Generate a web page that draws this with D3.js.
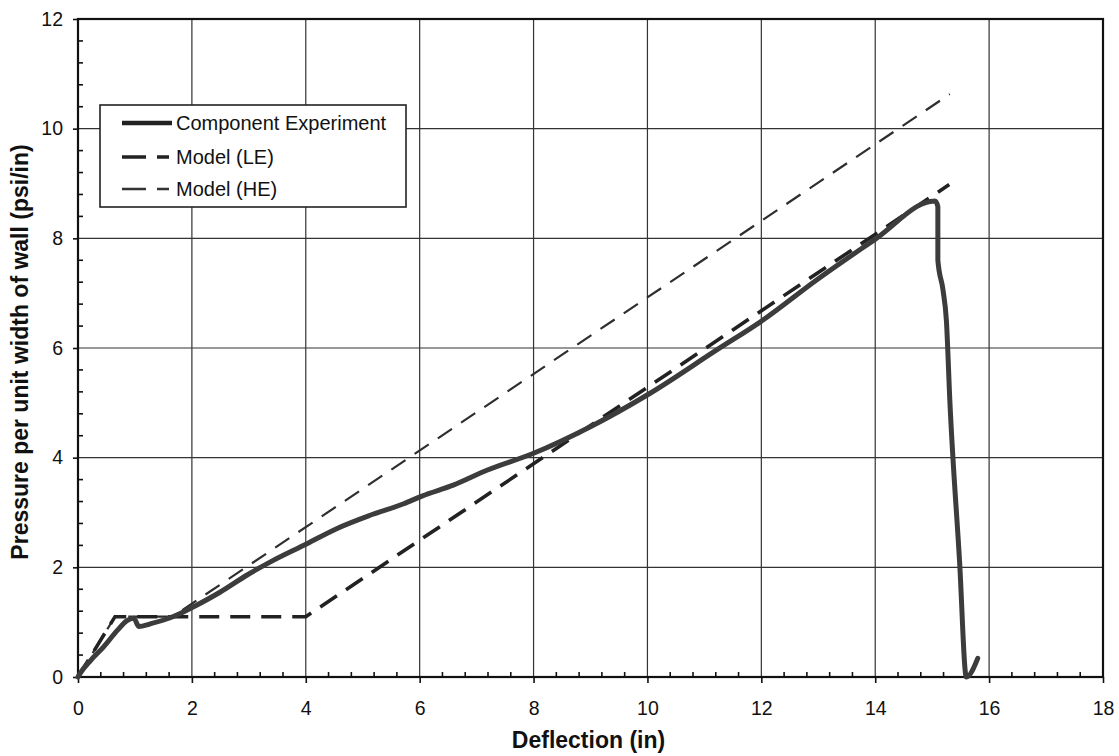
<!DOCTYPE html>
<html><head><meta charset="utf-8">
<script src="https://cdn.jsdelivr.net/npm/d3@7"></script>
<style>
html,body{margin:0;padding:0;background:#fff;}
svg{display:block;font-family:"Liberation Sans",Arial,sans-serif;}
</style></head>
<body>
<svg id="c" width="1119" height="756"></svg>
<script>
// ---- data ----
const expX = [0, 0.04, 0.22, 0.45, 0.69, 0.86, 0.98, 1.07, 1.27, 1.62, 1.86, 2.03, 2.5, 2.97, 3.38, 4.02, 4.55, 5.13, 5.72, 6.04, 6.59, 7.18, 8.0, 8.99, 10.04, 11.21, 12.03, 12.97, 14.02, 14.96, 15.05, 15.1, 15.1, 15.19, 15.25, 15.31, 15.48, 15.6, 15.8];
const expY = [0, 0.07, 0.3, 0.55, 0.85, 1.03, 1.07, 0.92, 0.97, 1.08, 1.19, 1.28, 1.55, 1.86, 2.1, 2.43, 2.71, 2.95, 3.16, 3.3, 3.5, 3.77, 4.08, 4.56, 5.17, 5.96, 6.51, 7.24, 8.0, 8.67, 8.68, 8.58, 7.6, 7.06, 6.5, 5.05, 2.13, 0, 0.34];
const leX = [0, 0.65, 4.0, 15.3];
const leY = [0, 1.1, 1.1, 8.98];
const heX = [0, 0.65, 1.66, 15.31];
const heY = [0, 1.1, 1.1, 10.63];
const xTicks = [0, 2, 4, 6, 8, 10, 12, 14, 16, 18];
const yTicks = [0, 2, 4, 6, 8, 10, 12];
const seriesNames = ["Component Experiment", "Model (LE)", "Model (HE)"];
const xTitle = "Deflection (in)";
const yTitle = "Pressure per unit width of wall (psi/in)";

// ---- layout ----
const svg = d3.select("#c");
const L = 78, R = 1103, T = 19, B = 677;
const x = d3.scaleLinear().domain([0, 18]).range([L, R]);
const y = d3.scaleLinear().domain([0, 12]).range([B, T]);
const FONT = "'Liberation Sans',Arial,sans-serif";

// grid
const g = svg.append("g");
g.selectAll("line.vx").data(xTicks.slice(1, -1)).join("line")
  .attr("x1", d => x(d)).attr("x2", d => x(d)).attr("y1", T).attr("y2", B)
  .attr("stroke", "#333").attr("stroke-width", 1.2);
g.selectAll("line.hy").data(yTicks.slice(1, -1)).join("line")
  .attr("y1", d => y(d)).attr("y2", d => y(d)).attr("x1", L).attr("x2", R)
  .attr("stroke", "#333").attr("stroke-width", 1.2);

// frame
svg.append("rect").attr("x", L).attr("y", T).attr("width", R - L).attr("height", B - T)
  .attr("fill", "none").attr("stroke", "#111").attr("stroke-width", 2.2);

// minor ticks (inward)
const minorX = d3.range(1, 45).filter(i => i % 5 !== 0).map(i => i * 0.4);
const minorY = d3.range(1, 30).filter(i => i % 5 !== 0).map(i => i * 0.4);
const mt = svg.append("g");
mt.selectAll("line.mx").data(minorX).join("line").attr("class", "mx")
  .attr("x1", d => x(d)).attr("x2", d => x(d)).attr("y1", B).attr("y2", B - 5)
  .attr("stroke", "#111").attr("stroke-width", 1.6);
mt.selectAll("line.my").data(minorY).join("line").attr("class", "my")
  .attr("y1", d => y(d)).attr("y2", d => y(d)).attr("x1", L).attr("x2", L + 5)
  .attr("stroke", "#111").attr("stroke-width", 1.6);

// major axes
const ax = svg.append("g").attr("transform", `translate(0,${B})`)
  .call(d3.axisBottom(x).tickValues(xTicks).tickSize(6).tickPadding(18).tickFormat(d3.format("d")));
ax.select(".domain").remove();
ax.selectAll("line").attr("stroke", "#111").attr("stroke-width", 1.6);
ax.selectAll("text").attr("font-size", 19.5).attr("fill", "#111").attr("font-family", FONT);
const ay = svg.append("g").attr("transform", `translate(${L},0)`)
  .call(d3.axisLeft(y).tickValues(yTicks).tickSize(5).tickPadding(10).tickFormat(d3.format("d")));
ay.select(".domain").remove();
ay.selectAll("line").attr("stroke", "#111").attr("stroke-width", 1.6);
ay.selectAll("text").attr("font-size", 19.5).attr("fill", "#111").attr("font-family", FONT);

// titles
svg.append("text").attr("x", (L + R) / 2 - 2).attr("y", 748).attr("text-anchor", "middle")
  .attr("font-size", 23).attr("font-weight", "bold").attr("fill", "#111").text(xTitle);
svg.append("text").attr("transform", `translate(28,${(T + B) / 2 + 4}) rotate(-90)`)
  .attr("text-anchor", "middle").attr("font-size", 23).attr("font-weight", "bold")
  .attr("fill", "#111").text(yTitle);

// lines
const line = d3.line().x(d => x(d[0])).y(d => y(d[1]));
const heData = heX.map((v, i) => [v, heY[i]]);
const leData = leX.map((v, i) => [v, leY[i]]);
const expData = expX.map((v, i) => [v, expY[i]]);
svg.append("path").datum(heData).attr("d", line).attr("fill", "none")
  .attr("stroke", "#2e2e2e").attr("stroke-width", 2.2).attr("stroke-dasharray", "17,11");
svg.append("path").datum(leData).attr("d", line).attr("fill", "none")
  .attr("stroke", "#222").attr("stroke-width", 3.6).attr("stroke-dasharray", "20,11");
svg.append("path").datum(expData).attr("d", d3.line().x(d => x(d[0])).y(d => y(d[1])).curve(d3.curveMonotoneX))
  .attr("fill", "none")
  .attr("stroke", "#3c3c3c").attr("stroke-width", 5).attr("stroke-linejoin", "round").attr("stroke-linecap", "round");

// legend
const lg = svg.append("g");
lg.append("rect").attr("x", 100).attr("y", 105).attr("width", 306).attr("height", 102)
  .attr("fill", "#fff").attr("stroke", "#222").attr("stroke-width", 1.6);
const rows = [
  {name: seriesNames[0], yy: 123, w: 4.5, dash: null, col: "#222"},
  {name: seriesNames[1], yy: 157, w: 3.6, dash: "24,11,12,20", col: "#222"},
  {name: seriesNames[2], yy: 189, w: 2.4, dash: "24,11,12,20", col: "#333"}
];
rows.forEach(r => {
  const l = lg.append("line").attr("x1", 122).attr("x2", 172).attr("y1", r.yy).attr("y2", r.yy)
    .attr("stroke", r.col).attr("stroke-width", r.w);
  if (r.dash) l.attr("stroke-dasharray", r.dash);
  lg.append("text").attr("x", 176).attr("y", r.yy + 7).attr("font-size", 20)
    .attr("fill", "#111").attr("font-family", FONT).text(r.name);
});
</script>
</body></html>
